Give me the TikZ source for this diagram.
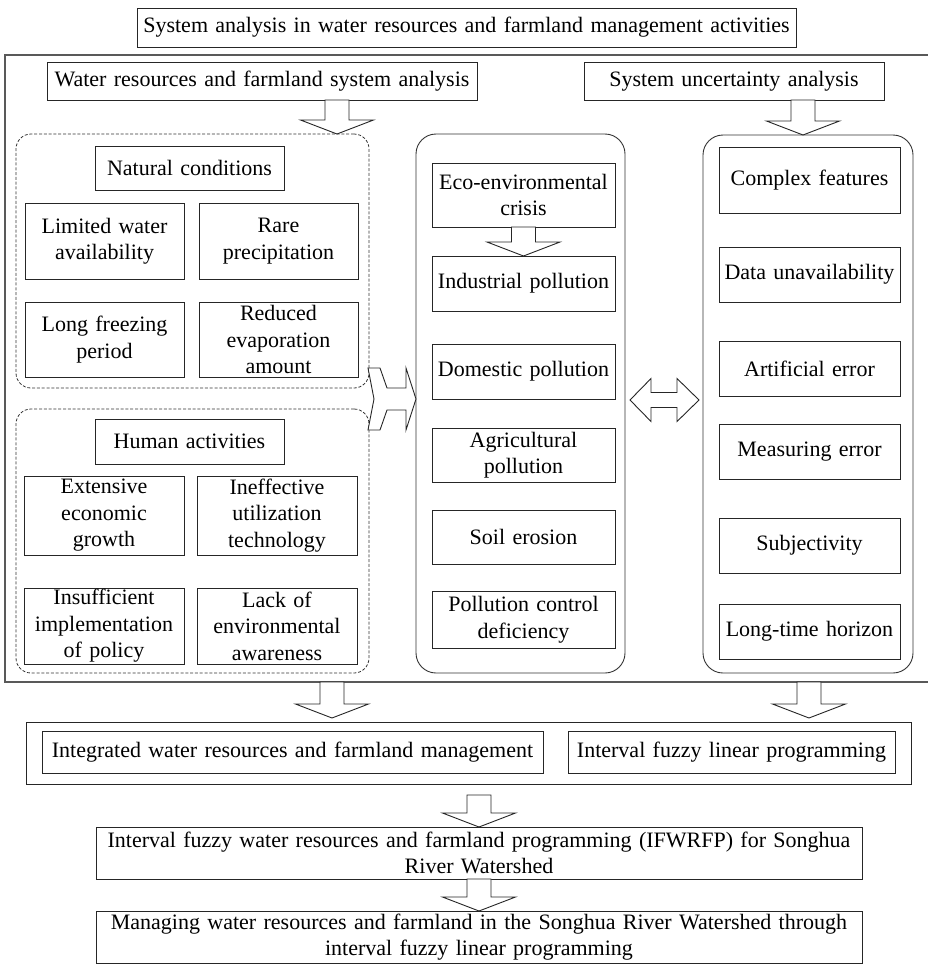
\documentclass[tikz,border=0pt]{standalone}
\usepackage{fontspec}
\setmainfont{Liberation Serif}
\tikzset{
 bx/.style={draw=black!85, line width=0.9pt, align=center, inner sep=1pt, font=\fontsize{22}{26.5}\selectfont},
 cont/.style={draw=black!85, line width=0.9pt, inner sep=0pt},
 rbox/.style={draw=black!80, line width=0.9pt, rounded corners=20pt, inner sep=0pt},
 dbox/.style={draw=black!80, line width=0.8pt, dash pattern=on 3pt off 1.8pt, rounded corners=15pt, inner sep=0pt},
 arr/.style={draw=black!85, line width=0.9pt, fill=white, line join=miter},
 frame/.style={draw=black!65, line width=1.2pt},
}
\newcommand{\mybox}[7][bx]{%
 \pgfmathsetmacro\bw{#5-#3}%
 \pgfmathsetmacro\bh{#6-#4}%
 \pgfmathsetmacro\tw{max(#5-#3-6,1)}%
 \pgfmathsetmacro\bcx{(#3+#5)/2}%
 \pgfmathsetmacro\bcy{(#4+#6)/2}%
 \node[#1, minimum width=\bw pt, minimum height=\bh pt, text width=\tw pt] (#2) at (\bcx,\bcy) {#7};}
\newcommand{\darr}[3]{% cx, ytop, ytip
 \draw[arr] ({#1-12},#2) -- ({#1+12},#2) -- ({#1+12},{#3-14}) -- ({#1+36.5},{#3-14}) -- (#1,#3) -- ({#1-36.5},{#3-14}) -- ({#1-12},{#3-14}) -- cycle;}
\begin{document}
\begin{tikzpicture}[x=1pt,y=-1pt]
\useasboundingbox (0,0) rectangle (927,964);
% title
\mybox{title}{137}{8}{796}{47}{System analysis in water resources and farmland management activities}
% frame
\draw[frame] (928,55) -- (5,55) -- (5,682) -- (928,682);
\mybox{wr}{47}{62}{477}{100}{Water resources and farmland system analysis}
\mybox{su}{584}{62}{884}{100}{System uncertainty analysis}
% left dashed containers
\mybox[dbox]{nat}{16}{134}{369}{388}{}
\mybox[dbox]{hum}{16}{409}{369}{673}{}
\mybox{nc}{95}{146}{284}{190}{Natural conditions}
\mybox{lw}{25}{203}{184}{279}{Limited water\\availability}
\mybox{rp}{199}{203}{358}{279}{Rare\\precipitation}
\mybox{lf}{25}{302}{184}{377}{Long freezing\\period}
\mybox{re}{199}{302}{358}{377}{Reduced\\evaporation\\amount}
\mybox{ha}{95}{419}{284}{464}{Human activities}
\mybox{ee}{24}{476}{184}{555}{Extensive\\economic\\growth}
\mybox{iu}{197}{476}{357}{555}{Ineffective\\utilization\\technology}
\mybox{ii}{24}{588}{184}{664}{Insufficient\\implementation\\of policy}
\mybox{le}{197}{588}{357}{664}{Lack of\\environmental\\awareness}
% middle column
\mybox[rbox]{mid}{416}{134}{625}{673}{}
\mybox{eco}{432}{163}{615}{227}{Eco-environmental\\crisis}
\mybox{ip}{432}{256}{615}{311}{Industrial pollution}
\mybox{dp}{432}{344}{615}{399}{Domestic pollution}
\mybox{ap}{432}{428}{615}{482}{Agricultural\\pollution}
\mybox{se}{432}{510}{615}{564}{Soil erosion}
\mybox{pc}{432}{591}{615}{648}{Pollution control\\deficiency}
% right column
\mybox[rbox]{rgt}{703}{135}{913}{673}{}
\mybox{cf}{719}{147}{900}{213}{Complex features}
\mybox{du}{719}{247}{900}{302}{Data unavailability}
\mybox{ae}{719}{341}{900}{396}{Artificial error}
\mybox{me}{719}{424}{900}{479}{Measuring error}
\mybox{sb}{719}{518}{900}{573}{Subjectivity}
\mybox{lt}{719}{604}{900}{659}{Long-time horizon}
% bottom
\mybox[cont]{outer}{26}{722}{911}{784}{}
\mybox{iw}{42}{731}{543}{773}{Integrated water resources and farmland management}
\mybox{ifl}{568}{731}{895}{773}{Interval fuzzy linear programming}
\mybox{ifw}{96}{827}{862}{879}{Interval fuzzy water resources and farmland programming (IFWRFP) for Songhua\\River Watershed}
\mybox{mw}{96}{911}{862}{963}{Managing water resources and farmland in the Songhua River Watershed through\\interval fuzzy linear programming}
% arrows
\darr{337}{100}{134}
\darr{803}{100}{135}
\darr{523.5}{227}{256}
\darr{332}{682}{718}
\darr{809}{682}{718}
\darr{479}{795}{827}
\darr{479}{879}{911}
\draw[arr] (368,368) -- (380,368) -- (387,388) -- (406,388) -- (406,368) -- (416,399) -- (406,430) -- (406,410) -- (387,410) -- (380,430) -- (368,430) -- (374,399) -- cycle;
\draw[arr] (630,400) -- (651,378.5) -- (651,392.5) -- (677,392.5) -- (677,378.5) -- (699,400) -- (677,421.5) -- (677,407.5) -- (651,407.5) -- (651,421.5) -- cycle;
\end{tikzpicture}
\end{document}
